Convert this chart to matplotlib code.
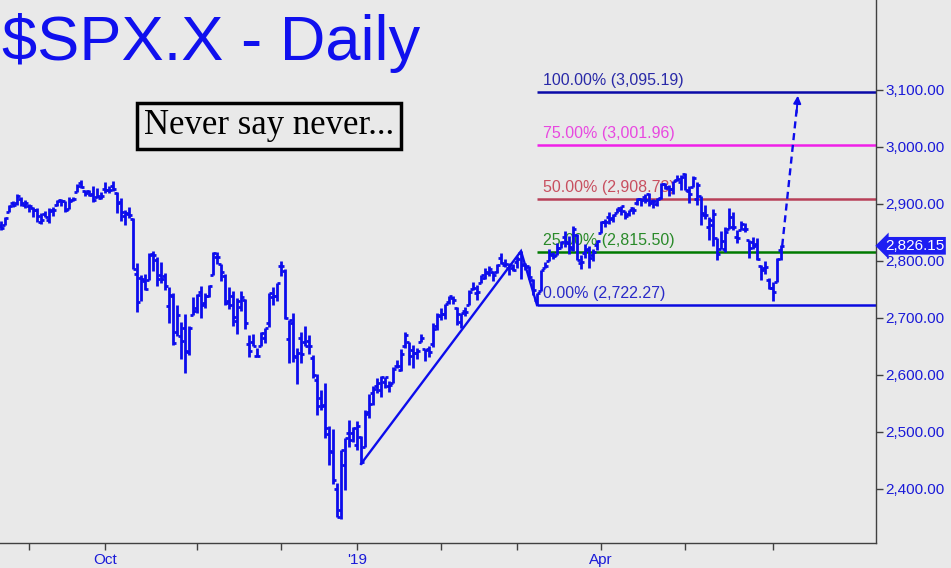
import matplotlib
matplotlib.use("Agg")
import matplotlib.pyplot as plt
import numpy as np
import pandas as pd
from matplotlib.ticker import FixedLocator, FuncFormatter

# ---------------- data ----------------
start_date = "2018-08-22"
end_date = "2019-06-05"
market_holidays = ["2018-09-03", "2018-11-22", "2018-12-05", "2018-12-25",
                   "2019-01-01", "2019-01-21", "2019-02-18", "2019-04-19",
                   "2019-05-27"]

opens = [
    2860.99, 2860.29, 2862.35, 2884.69, 2901.45, 2900.62, 2908.94, 2898.37,
    2896.51, 2891.59, 2888.64, 2868.26, 2881.39, 2871.57, 2888.29, 2896.85, 2906.38, 2903.83,
    2890.74, 2906.60, 2919.73, 2936.76, 2921.83, 2921.75, 2916.98, 2911.65, 2910.03,
    2926.29, 2923.80, 2931.69, 2919.35, 2902.54, 2877.53, 2882.51, 2873.90, 2776.87, 2770.54,
    2763.83, 2767.05, 2811.67, 2802.00, 2775.66, 2773.94, 2721.03, 2737.87, 2674.88, 2667.86,
    2682.65, 2640.68, 2705.60,
    2717.58, 2745.45, 2726.37, 2738.40, 2774.13, 2806.38, 2794.10, 2773.93, 2730.05, 2737.90,
    2693.52, 2718.54, 2730.74, 2654.60, 2657.74, 2633.36, 2649.97, 2663.75, 2691.45, 2736.97, 2737.76,
    2790.50, 2782.43, 2663.51, 2691.26, 2630.86, 2664.44, 2658.23, 2658.70, 2629.68, 2590.75,
    2559.90, 2547.05, 2496.77, 2465.38, 2400.56, 2363.12, 2442.50, 2498.77, 2498.94,
    2476.96, 2491.92, 2474.33, 2535.61, 2568.11, 2580.00, 2573.51, 2588.11, 2580.31, 2585.10,
    2614.75, 2609.28, 2651.27, 2657.88, 2643.48, 2638.84, 2657.44, 2644.97, 2644.89, 2653.62, 2685.49,
    2702.32, 2706.49, 2728.34, 2735.05, 2717.53, 2692.36, 2712.40, 2722.61, 2750.30, 2743.50,
    2760.24, 2769.28, 2779.05, 2780.67, 2780.67, 2804.35, 2792.36, 2787.50, 2788.11,
    2798.22, 2814.37, 2794.41, 2790.27, 2766.53, 2730.79, 2747.61, 2787.34, 2799.78, 2810.38,
    2810.79, 2822.61, 2840.76, 2831.34, 2819.72, 2844.52, 2796.01, 2812.66, 2819.72, 2809.40, 2828.27,
    2848.63, 2868.24, 2876.09, 2873.99, 2884.16, 2888.46, 2886.58, 2881.37, 2891.92, 2900.86,
    2908.32, 2912.26, 2916.04, 2904.81, 2898.78, 2909.99, 2934.00, 2928.99, 2925.81, 2940.58, 2937.14,
    2952.33, 2922.16, 2929.21, 2908.89, 2913.03, 2879.61, 2859.84, 2863.10, 2840.19, 2820.12,
    2820.38, 2855.80, 2858.60, 2841.94, 2854.02, 2856.06, 2836.70, 2832.41, 2830.03, 2790.25,
    2786.94, 2766.15,
    2751.53, 2762.64, 2818.09]

highs = [
    2867.54, 2868.78, 2876.16, 2898.25, 2903.77, 2916.50, 2912.46, 2906.32,
    2900.18, 2894.21, 2892.05, 2883.81, 2886.93, 2892.52, 2894.65, 2906.76, 2908.30, 2904.65,
    2911.17, 2912.36, 2934.80, 2940.91, 2923.79, 2923.95, 2931.15, 2927.22, 2920.53,
    2937.06, 2931.42, 2939.86, 2919.78, 2909.64, 2889.45, 2894.83, 2874.02, 2795.14, 2775.77,
    2775.99, 2813.46, 2816.94, 2806.04, 2797.77, 2778.94, 2753.59, 2742.59, 2722.70, 2692.38,
    2706.85, 2685.43, 2736.69,
    2741.67, 2756.55, 2744.27, 2756.82, 2815.15, 2814.75, 2794.10, 2775.99, 2754.60, 2746.80,
    2735.38, 2746.75, 2733.16, 2669.44, 2670.73, 2647.55, 2674.35, 2682.53, 2744.00, 2753.75, 2760.88,
    2800.18, 2785.93, 2696.15, 2708.54, 2647.51, 2674.35, 2685.44, 2670.19, 2635.07, 2601.13,
    2573.99, 2585.29, 2509.63, 2504.41, 2410.34, 2467.76, 2489.10, 2520.27, 2509.24,
    2519.49, 2493.14, 2538.07, 2566.16, 2579.82, 2595.32, 2597.82, 2596.27, 2589.32, 2613.08,
    2625.76, 2645.06, 2675.47, 2657.88, 2653.19, 2647.20, 2672.38, 2644.97, 2650.93, 2690.44, 2708.95,
    2716.66, 2724.99, 2738.98, 2738.08, 2719.32, 2708.07, 2718.05, 2748.19, 2761.85, 2757.90,
    2775.66, 2787.33, 2789.88, 2781.58, 2794.20, 2813.49, 2803.12, 2795.76, 2793.73,
    2808.02, 2816.88, 2796.44, 2790.27, 2767.25, 2744.13, 2784.00, 2798.32, 2821.24, 2815.00,
    2830.73, 2835.41, 2852.42, 2843.54, 2860.31, 2846.16, 2809.79, 2829.87, 2825.56, 2819.71, 2836.03,
    2869.40, 2872.90, 2885.25, 2881.28, 2893.24, 2895.95, 2886.88, 2889.71, 2893.42, 2910.54,
    2909.60, 2916.06, 2918.00, 2908.40, 2909.51, 2936.31, 2936.83, 2933.10, 2939.88, 2949.52, 2949.52,
    2954.13, 2931.68, 2947.85, 2937.32, 2913.03, 2897.96, 2875.97, 2891.31, 2840.19, 2852.54,
    2858.68, 2892.15, 2885.48, 2853.86, 2868.88, 2865.47, 2836.70, 2841.36, 2840.51, 2792.03,
    2799.00, 2768.98,
    2763.07, 2804.49, 2827.28]

lows = [
    2856.05, 2854.03, 2862.35, 2884.69, 2893.50, 2898.40, 2895.22, 2891.73,
    2885.13, 2876.92, 2867.29, 2864.12, 2875.94, 2866.78, 2879.20, 2896.39, 2895.77, 2886.16,
    2890.43, 2903.82, 2919.73, 2927.11, 2912.63, 2913.70, 2903.28, 2909.27, 2907.50,
    2917.91, 2919.37, 2921.36, 2883.92, 2869.29, 2862.08, 2874.27, 2784.86, 2710.51, 2729.44,
    2749.03, 2766.91, 2781.81, 2755.18, 2760.27, 2749.22, 2691.43, 2651.89, 2667.84, 2628.16,
    2603.54, 2635.34, 2705.60,
    2708.85, 2700.44, 2717.94, 2737.08, 2774.13, 2794.99, 2764.24, 2722.00, 2714.98, 2685.75,
    2670.75, 2712.16, 2681.09, 2631.52, 2649.82, 2631.09, 2649.97, 2655.89, 2684.38, 2722.94, 2730.05,
    2773.38, 2697.18, 2621.53, 2623.14, 2583.23, 2621.30, 2650.26, 2637.27, 2593.84, 2530.54,
    2538.07, 2488.96, 2441.18, 2408.55, 2351.10, 2346.58, 2397.94, 2472.89, 2482.82,
    2467.47, 2443.96, 2474.33, 2524.56, 2547.56, 2568.89, 2562.02, 2577.40, 2570.41, 2585.10,
    2612.68, 2606.36, 2647.58, 2617.27, 2612.86, 2627.01, 2657.33, 2624.06, 2631.05, 2648.34, 2678.65,
    2696.88, 2698.75, 2724.03, 2724.15, 2687.26, 2681.83, 2703.79, 2722.61, 2748.63, 2731.23,
    2760.24, 2767.29, 2774.06, 2764.55, 2779.11, 2794.99, 2789.47, 2775.13, 2782.51,
    2787.38, 2767.66, 2782.97, 2768.69, 2739.09, 2722.27, 2747.61, 2786.73, 2799.78, 2803.46,
    2810.79, 2821.99, 2823.27, 2812.43, 2817.38, 2800.47, 2785.02, 2803.99, 2787.72, 2798.77, 2819.23,
    2848.63, 2858.75, 2865.17, 2867.14, 2882.99, 2880.78, 2873.33, 2879.13, 2881.99, 2898.37,
    2896.48, 2900.71, 2895.45, 2891.90, 2896.35, 2908.53, 2926.05, 2912.84, 2917.56, 2939.35, 2924.00,
    2923.36, 2900.50, 2929.21, 2898.21, 2862.60, 2873.28, 2836.40, 2825.39, 2801.43, 2820.12,
    2815.08, 2855.80, 2854.23, 2831.29, 2854.02, 2851.11, 2805.49, 2820.19, 2801.58, 2766.06,
    2776.74, 2750.52,
    2728.81, 2762.64, 2800.92]

closes = [
    2861.82, 2856.98, 2874.69, 2896.74, 2897.52, 2914.04, 2901.13, 2901.52,
    2896.72, 2888.60, 2878.05, 2871.68, 2877.13, 2887.89, 2888.92, 2904.18, 2904.98, 2888.80,
    2904.31, 2907.95, 2930.75, 2929.67, 2919.37, 2915.56, 2905.97, 2914.00, 2913.98,
    2924.59, 2923.43, 2925.51, 2901.61, 2885.57, 2884.43, 2880.34, 2785.68, 2728.37, 2767.13,
    2750.79, 2809.92, 2809.21, 2768.78, 2767.78, 2755.88, 2740.69, 2656.10, 2705.57, 2658.69,
    2641.25, 2682.63, 2711.74,
    2740.37, 2723.06, 2738.31, 2755.45, 2813.89, 2806.83, 2781.01, 2726.22, 2722.18, 2701.58,
    2730.20, 2736.27, 2690.73, 2641.89, 2649.93, 2632.56, 2673.45, 2682.17, 2743.79, 2737.76, 2760.17,
    2790.37, 2700.06, 2695.95, 2633.08, 2637.72, 2636.78, 2651.07, 2650.54, 2599.95, 2545.94,
    2546.16, 2506.96, 2467.42, 2416.62, 2351.10, 2467.70, 2488.83, 2485.74, 2506.85,
    2510.03, 2447.89, 2531.94, 2549.69, 2574.41, 2584.96, 2596.64, 2596.26, 2582.61, 2610.30,
    2616.10, 2635.96, 2670.71, 2632.90, 2638.70, 2642.33, 2664.76, 2643.85, 2640.00, 2681.05, 2704.10,
    2706.53, 2724.87, 2737.70, 2731.61, 2706.05, 2707.88, 2709.80, 2744.73, 2753.03, 2745.73,
    2775.60, 2779.76, 2784.70, 2774.88, 2792.67, 2796.11, 2793.90, 2792.38, 2784.49,
    2803.69, 2792.81, 2789.65, 2771.45, 2748.93, 2743.07, 2783.30, 2791.52, 2810.92, 2808.48,
    2822.48, 2832.94, 2832.57, 2824.23, 2854.88, 2800.71, 2798.36, 2818.46, 2805.37, 2815.44, 2834.40,
    2867.19, 2867.24, 2873.40, 2879.39, 2892.74, 2895.77, 2878.20, 2888.21, 2888.32, 2907.41,
    2905.58, 2907.06, 2900.45, 2905.03, 2907.97, 2933.68, 2927.25, 2926.17, 2939.88, 2943.03, 2945.83,
    2923.73, 2917.52, 2945.64, 2932.47, 2884.05, 2879.42, 2870.72, 2881.40, 2811.87, 2834.41,
    2850.96, 2876.32, 2859.53, 2840.23, 2864.36, 2856.27, 2822.24, 2826.06, 2802.39, 2783.02,
    2788.86, 2752.06,
    2744.45, 2803.27, 2826.15]

# pattern points (A, B, C) and target
abc_dates = ["2019-01-03", "2019-03-04", "2019-03-08"]
abc_prices = [2443.96, 2816.88, 2722.27]
fib_pcts = ["0.00%", "25.00%", "50.00%", "75.00%", "100.00%"]
fib_levels = [2722.27, 2815.50, 2908.73, 3001.96, 3095.19]
fib_line_colors = ["#0a0ae0", "#007a00", "#b84058", "#f020e8", "#0a0aa8"]
fib_text_colors = ["#2a2ac8", "#2a8a2a", "#c85060", "#e848e0", "#2a2aa8"]
last_price = 2826.15
y_ticks = [2400, 2500, 2600, 2700, 2800, 2900, 3000, 3100]
month_labels = {"Oct": "2018-10", "'19": "2019-01", "Apr": "2019-04"}
minor_months = ["2018-09", "2018-11", "2018-12", "2019-02", "2019-03", "2019-05", "2019-06"]

# ---------------- build ----------------
dates = pd.bdate_range(start_date, end_date)
dates = dates[~dates.isin(pd.to_datetime(market_holidays))]
n = min(len(dates), len(opens), len(highs), len(lows), len(closes))
dates = dates[:n]
idx = np.arange(n)
date_pos = {d.strftime("%Y-%m-%d"): i for i, d in enumerate(dates)}

def month_first(m):
    for i, d in enumerate(dates):
        if d.strftime("%Y-%m") == m:
            return i
    return None

BAR = "#0c0cec"
BG = "#e9e9e9"
W, H = 951, 568
fig = plt.figure(figsize=(W / 100, H / 100), dpi=100, facecolor=BG)
ax = fig.add_axes([0, (H - 543) / H, 876 / W, 543 / H], facecolor=BG)

# fib lines and labels (under bars)
x_c = date_pos[abc_dates[2]]
for lvl, pct, lc, tc in zip(fib_levels, fib_pcts, fib_line_colors, fib_text_colors):
    ax.hlines(lvl, x_c, 260, color=lc, lw=1.8, zorder=1)
    ax.annotate(f"{pct} ({lvl:,.2f})", xy=(x_c + 1.5, lvl), xytext=(0, 3),
                textcoords="offset points", ha="left", va="bottom",
                fontsize=11.5, color=tc, family=["Liberation Sans", "DejaVu Sans"],
                zorder=1)

# OHLC bars
o = np.array(opens[:n]); h = np.array(highs[:n]); l = np.array(lows[:n]); c = np.array(closes[:n])
ax.vlines(idx, l, h, color=BAR, lw=2.0, zorder=3)
ax.hlines(o, idx - 0.65, idx, color=BAR, lw=2.0, zorder=3)
ax.hlines(c, idx, idx + 0.65, color=BAR, lw=2.0, zorder=3)

# ABC pattern lines
abc_x = [date_pos[d] for d in abc_dates]
ax.plot(abc_x, abc_prices, color=BAR, lw=1.7, zorder=2, solid_joinstyle="miter")

# dashed projection arrow
x_end = n - 1
tip_x, tip_y = x_end + 4.2, fib_levels[-1] - 6
ax.plot([x_end + 0.3, tip_x - 0.25], [c[-1], tip_y - 22], color=BAR, lw=1.7,
        ls=(0, (3, 2)), zorder=3)
ax.annotate("", xy=(tip_x, tip_y), xytext=(tip_x - 0.3, tip_y - 30),
            arrowprops=dict(arrowstyle="-|>", color=BAR, lw=1.4, mutation_scale=11,
                            shrinkA=0, shrinkB=0), zorder=3)

# axes limits
ax.set_xlim(0.75, 0.75 + 876 / 4)
ax.set_ylim(2400 - 54 / 0.5707, 2400 + 489 / 0.5707)

# spines
for s in ["left", "top"]:
    ax.spines[s].set_visible(False)
for s in ["right", "bottom"]:
    ax.spines[s].set_color("#404040")
    ax.spines[s].set_linewidth(1.0)

# y axis on right
ax.yaxis.tick_right()
ax.yaxis.set_major_locator(FixedLocator(y_ticks))
ax.yaxis.set_major_formatter(FuncFormatter(lambda v, p: f"{v:,.2f}"))
ax.tick_params(axis="y", direction="out", length=5, width=1, color="#404040",
               labelcolor="#1a1ad8", labelsize=11, pad=2)
for t in ax.get_yticklabels():
    t.set_family(["Liberation Sans", "DejaVu Sans"])

# x axis month ticks
major_pos = [month_first(m) for m in month_labels.values()]
minor_pos = [month_first(m) for m in minor_months]
ax.xaxis.set_major_locator(FixedLocator(major_pos))
ax.xaxis.set_minor_locator(FixedLocator([p for p in minor_pos if p is not None]))
ax.set_xticklabels(list(month_labels.keys()))
ax.tick_params(axis="x", which="both", direction="out", length=5, width=1, color="#404040")
ax.tick_params(axis="x", which="major", labelcolor="#1a1ad8", labelsize=11, pad=2)
for t in ax.get_xticklabels():
    t.set_family(["Liberation Sans Narrow", "Liberation Sans", "DejaVu Sans"])

# last price tag
ax.text(1.010, last_price, f"{last_price:,.2f}", transform=ax.get_yaxis_transform(),
        ha="left", va="center", fontsize=11, color="white",
        family=["Liberation Sans", "DejaVu Sans"],
        bbox=dict(boxstyle="larrow,pad=0.12", fc="#1e1ef2", ec="none"), clip_on=False)

# title and note
fig.text(2 / W, 1 - 43 / H, "$SPX.X - Daily", ha="left", va="center", fontsize=45.5,
         color="#1010ee", family=["Liberation Sans", "DejaVu Sans"])
fig.text(269 / W, 1 - 126 / H, "Never say never...", ha="center", va="center",
         fontsize=25, color="black", family=["Liberation Serif", "DejaVu Serif"],
         bbox=dict(boxstyle="square,pad=0.2", fc=BG, ec="black", lw=2.5))

fig.savefig("out.png", dpi=100, facecolor=BG)
print(len(dates), len(opens), len(highs), len(lows), len(closes))
